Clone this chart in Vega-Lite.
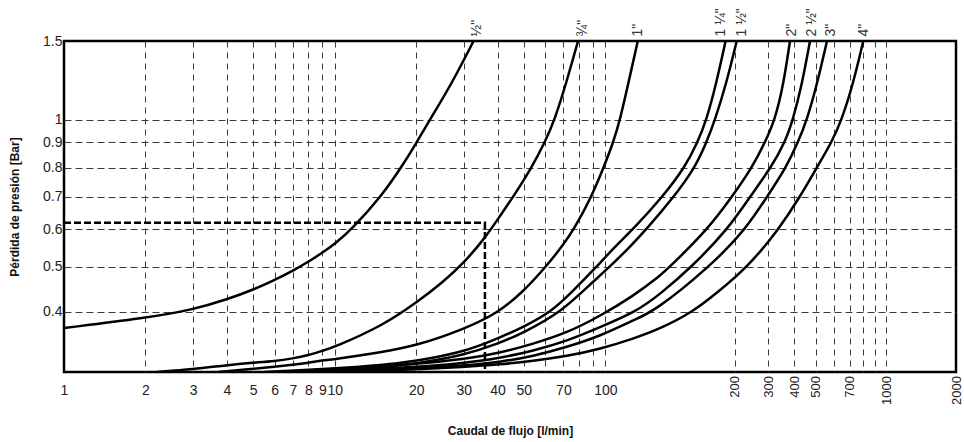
{
  "$schema": "https://vega.github.io/schema/vega-lite/v6.json",
  "width": 892,
  "height": 331,
  "autosize": {"type": "none"},
  "padding": {"left": 64, "top": 41, "right": 8, "bottom": 70},
  "background": "white",
  "config": {
    "view": {"stroke": "black", "strokeWidth": 2.5},
    "font": "Liberation Sans"
  },
  "datasets": {
    "curves": [
      {"s": "½\"", "q": 1, "p": 0.370}, {"s": "½\"", "q": 2, "p": 0.388}, {"s": "½\"", "q": 3, "p": 0.404}, {"s": "½\"", "q": 4, "p": 0.425}, {"s": "½\"", "q": 5, "p": 0.446}, {"s": "½\"", "q": 6, "p": 0.468}, {"s": "½\"", "q": 7, "p": 0.49}, {"s": "½\"", "q": 8, "p": 0.512}, {"s": "½\"", "q": 9, "p": 0.535}, {"s": "½\"", "q": 10, "p": 0.558}, {"s": "½\"", "q": 11.59, "p": 0.6}, {"s": "½\"", "q": 14.83, "p": 0.7}, {"s": "½\"", "q": 17.6, "p": 0.8}, {"s": "½\"", "q": 20.1, "p": 0.9}, {"s": "½\"", "q": 22.45, "p": 1.0}, {"s": "½\"", "q": 27.0, "p": 1.2}, {"s": "½\"", "q": 32.6, "p": 1.5},
      {"s": "¾\"", "q": 2.2, "p": 0.3}, {"s": "¾\"", "q": 3, "p": 0.304}, {"s": "¾\"", "q": 4, "p": 0.31}, {"s": "¾\"", "q": 5, "p": 0.3136}, {"s": "¾\"", "q": 6, "p": 0.316}, {"s": "¾\"", "q": 7, "p": 0.32}, {"s": "¾\"", "q": 8, "p": 0.325}, {"s": "¾\"", "q": 9, "p": 0.332}, {"s": "¾\"", "q": 10, "p": 0.338}, {"s": "¾\"", "q": 15, "p": 0.374}, {"s": "¾\"", "q": 20, "p": 0.418}, {"s": "¾\"", "q": 25, "p": 0.462}, {"s": "¾\"", "q": 30, "p": 0.509}, {"s": "¾\"", "q": 35.9, "p": 0.574}, {"s": "¾\"", "q": 40.8, "p": 0.638}, {"s": "¾\"", "q": 45.7, "p": 0.7}, {"s": "¾\"", "q": 53.4, "p": 0.8}, {"s": "¾\"", "q": 59.8, "p": 0.9}, {"s": "¾\"", "q": 65, "p": 1.0}, {"s": "¾\"", "q": 71.5, "p": 1.2}, {"s": "¾\"", "q": 79.3, "p": 1.5},
      {"s": "1\"", "q": 3.7, "p": 0.3}, {"s": "1\"", "q": 5, "p": 0.3047}, {"s": "1\"", "q": 6, "p": 0.3076}, {"s": "1\"", "q": 7, "p": 0.3106}, {"s": "1\"", "q": 8, "p": 0.3136}, {"s": "1\"", "q": 9, "p": 0.317}, {"s": "1\"", "q": 10, "p": 0.319}, {"s": "1\"", "q": 15, "p": 0.330}, {"s": "1\"", "q": 20, "p": 0.34}, {"s": "1\"", "q": 30, "p": 0.368}, {"s": "1\"", "q": 40, "p": 0.397}, {"s": "1\"", "q": 50, "p": 0.443}, {"s": "1\"", "q": 60.3, "p": 0.5}, {"s": "1\"", "q": 69, "p": 0.55}, {"s": "1\"", "q": 76.7, "p": 0.6}, {"s": "1\"", "q": 89, "p": 0.7}, {"s": "1\"", "q": 98.5, "p": 0.8}, {"s": "1\"", "q": 104.4, "p": 0.9}, {"s": "1\"", "q": 108.2, "p": 1.0}, {"s": "1\"", "q": 113, "p": 1.2}, {"s": "1\"", "q": 119, "p": 1.5},
      {"s": "1 ¼\"", "q": 5.5, "p": 0.3}, {"s": "1 ¼\"", "q": 7, "p": 0.302}, {"s": "1 ¼\"", "q": 10, "p": 0.305}, {"s": "1 ¼\"", "q": 15, "p": 0.31}, {"s": "1 ¼\"", "q": 20, "p": 0.316}, {"s": "1 ¼\"", "q": 30, "p": 0.33}, {"s": "1 ¼\"", "q": 40, "p": 0.352}, {"s": "1 ¼\"", "q": 50, "p": 0.372}, {"s": "1 ¼\"", "q": 63.2, "p": 0.4}, {"s": "1 ¼\"", "q": 75, "p": 0.44}, {"s": "1 ¼\"", "q": 93, "p": 0.5}, {"s": "1 ¼\"", "q": 105, "p": 0.55}, {"s": "1 ¼\"", "q": 116.2, "p": 0.6}, {"s": "1 ¼\"", "q": 136, "p": 0.7}, {"s": "1 ¼\"", "q": 153, "p": 0.8}, {"s": "1 ¼\"", "q": 164, "p": 0.9}, {"s": "1 ¼\"", "q": 172, "p": 1.0}, {"s": "1 ¼\"", "q": 181, "p": 1.2}, {"s": "1 ¼\"", "q": 190.5, "p": 1.5},
      {"s": "1 ½\"", "q": 6.5, "p": 0.3}, {"s": "1 ½\"", "q": 10, "p": 0.303}, {"s": "1 ½\"", "q": 15, "p": 0.307}, {"s": "1 ½\"", "q": 20, "p": 0.312}, {"s": "1 ½\"", "q": 30, "p": 0.325}, {"s": "1 ½\"", "q": 40, "p": 0.343}, {"s": "1 ½\"", "q": 50, "p": 0.362}, {"s": "1 ½\"", "q": 68.8, "p": 0.4}, {"s": "1 ½\"", "q": 85, "p": 0.45}, {"s": "1 ½\"", "q": 102.5, "p": 0.5}, {"s": "1 ½\"", "q": 114, "p": 0.55}, {"s": "1 ½\"", "q": 124.8, "p": 0.6}, {"s": "1 ½\"", "q": 144.5, "p": 0.7}, {"s": "1 ½\"", "q": 161.7, "p": 0.8}, {"s": "1 ½\"", "q": 172, "p": 0.9}, {"s": "1 ½\"", "q": 180, "p": 1.0}, {"s": "1 ½\"", "q": 191, "p": 1.2}, {"s": "1 ½\"", "q": 205, "p": 1.5},
      {"s": "2\"", "q": 6.28, "p": 0.3}, {"s": "2\"", "q": 10, "p": 0.3043}, {"s": "2\"", "q": 20, "p": 0.3117}, {"s": "2\"", "q": 30, "p": 0.319}, {"s": "2\"", "q": 40.8, "p": 0.3285}, {"s": "2\"", "q": 54, "p": 0.343}, {"s": "2\"", "q": 72.1, "p": 0.3615}, {"s": "2\"", "q": 95.8, "p": 0.392}, {"s": "2\"", "q": 116, "p": 0.432}, {"s": "2\"", "q": 134, "p": 0.4775}, {"s": "2\"", "q": 141.4, "p": 0.5}, {"s": "2\"", "q": 173.4, "p": 0.6}, {"s": "2\"", "q": 197.1, "p": 0.7}, {"s": "2\"", "q": 246.9, "p": 0.8}, {"s": "2\"", "q": 289.3, "p": 0.9}, {"s": "2\"", "q": 323.9, "p": 1.0}, {"s": "2\"", "q": 355.4, "p": 1.2}, {"s": "2\"", "q": 381.5, "p": 1.5},
      {"s": "2 ½\"", "q": 6.84, "p": 0.3}, {"s": "2 ½\"", "q": 10, "p": 0.3021}, {"s": "2 ½\"", "q": 20, "p": 0.3072}, {"s": "2 ½\"", "q": 30, "p": 0.3131}, {"s": "2 ½\"", "q": 40.8, "p": 0.3205}, {"s": "2 ½\"", "q": 54, "p": 0.3318}, {"s": "2 ½\"", "q": 72.1, "p": 0.3477}, {"s": "2 ½\"", "q": 95.8, "p": 0.3717}, {"s": "2 ½\"", "q": 117.9, "p": 0.4}, {"s": "2 ½\"", "q": 134, "p": 0.436}, {"s": "2 ½\"", "q": 159.1, "p": 0.5}, {"s": "2 ½\"", "q": 193, "p": 0.6}, {"s": "2 ½\"", "q": 241, "p": 0.7}, {"s": "2 ½\"", "q": 310, "p": 0.8}, {"s": "2 ½\"", "q": 361.3, "p": 0.9}, {"s": "2 ½\"", "q": 394.3, "p": 1.0}, {"s": "2 ½\"", "q": 433.4, "p": 1.2}, {"s": "2 ½\"", "q": 471.2, "p": 1.5},
      {"s": "3\"", "q": 7.44, "p": 0.3}, {"s": "3\"", "q": 10, "p": 0.3014}, {"s": "3\"", "q": 20, "p": 0.305}, {"s": "3\"", "q": 30, "p": 0.3094}, {"s": "3\"", "q": 40.8, "p": 0.3146}, {"s": "3\"", "q": 54, "p": 0.3234}, {"s": "3\"", "q": 72.1, "p": 0.3379}, {"s": "3\"", "q": 95.8, "p": 0.3562}, {"s": "3\"", "q": 116, "p": 0.384}, {"s": "3\"", "q": 129.8, "p": 0.4}, {"s": "3\"", "q": 175.2, "p": 0.5}, {"s": "3\"", "q": 229.5, "p": 0.6}, {"s": "3\"", "q": 296.5, "p": 0.7}, {"s": "3\"", "q": 365.3, "p": 0.8}, {"s": "3\"", "q": 415.7, "p": 0.9}, {"s": "3\"", "q": 456.7, "p": 1.0}, {"s": "3\"", "q": 506.4, "p": 1.2}, {"s": "3\"", "q": 558.9, "p": 1.5},
      {"s": "4\"", "q": 8.46, "p": 0.3}, {"s": "4\"", "q": 10, "p": 0.3007}, {"s": "4\"", "q": 20, "p": 0.3036}, {"s": "4\"", "q": 30, "p": 0.3072}, {"s": "4\"", "q": 40.8, "p": 0.3109}, {"s": "4\"", "q": 54, "p": 0.3161}, {"s": "4\"", "q": 72.1, "p": 0.3234}, {"s": "4\"", "q": 95.8, "p": 0.3349}, {"s": "4\"", "q": 116, "p": 0.3515}, {"s": "4\"", "q": 134, "p": 0.3685}, {"s": "4\"", "q": 160.2, "p": 0.4}, {"s": "4\"", "q": 182.9, "p": 0.441}, {"s": "4\"", "q": 235.2, "p": 0.5}, {"s": "4\"", "q": 338.5, "p": 0.6}, {"s": "4\"", "q": 424.5, "p": 0.7}, {"s": "4\"", "q": 504.9, "p": 0.8}, {"s": "4\"", "q": 585.5, "p": 0.9}, {"s": "4\"", "q": 646.2, "p": 1.0}, {"s": "4\"", "q": 722.3, "p": 1.2}, {"s": "4\"", "q": 799.5, "p": 1.5}
    ],
    "guide": [
      {"q": 1, "p": 0.618, "o": 1},
      {"q": 35.9, "p": 0.618, "o": 2},
      {"q": 35.9, "p": 0.3, "o": 3}
    ],
    "labels": [
      {"s": "½\"", "q": 33.6},
      {"s": "¾\"", "q": 82.9},
      {"s": "1\"", "q": 119.2},
      {"s": "1 ¼\"", "q": 185.9},
      {"s": "1 ½\"", "q": 218.6},
      {"s": "2\"", "q": 390},
      {"s": "2 ½\"", "q": 481},
      {"s": "3\"", "q": 581.5},
      {"s": "4\"", "q": 805}
    ]
  },
  "resolve": {"axis": {"x": "independent"}},
  "layer": [
    {
      "data": {"name": "curves"},
      "mark": {"type": "line", "color": "black", "strokeWidth": 2.5, "interpolate": "basis", "clip": true},
      "encoding": {
        "x": {
          "field": "q", "type": "quantitative",
          "scale": {"type": "log", "domain": [1, 10, 100, 200, 300, 400, 500, 1000, 2000], "range": [0, 270.7, 541.3, 670.7, 704, 730.3, 751.7, 822, 892], "nice": false},
          "axis": {
            "orient": "bottom",
            "values": [1, 2, 3, 4, 5, 6, 7, 8, 9, 10, 20, 30, 40, 50, 60, 70, 80, 90, 100],
            "labelExpr": "indexof([60, 80, 90], datum.value) >= 0 ? '' : '' + datum.value",
            "grid": true, "gridDash": [6, 5], "gridColor": "#3a3a3a", "gridWidth": 1,
            "gridOpacity": {"condition": {"test": "datum.value == 1", "value": 0}, "value": 1},
            "ticks": false, "domain": false, "labelPadding": 11, "labelFontSize": 14, "labelColor": "#222",
            "labelFlush": false, "labelOverlap": false, "labelBound": false,
            "title": "Caudal de flujo [l/min]", "titleFontSize": 12, "titleFontWeight": "bold", "titleColor": "#111",
            "titleX": 446, "titleY": 58, "titleBaseline": "middle", "titleAlign": "center"
          }
        },
        "y": {
          "field": "p", "type": "quantitative",
          "scale": {"type": "log", "domain": [0.3, 0.4, 0.5, 0.6, 0.7, 0.8, 0.9, 1, 1.5], "range": [331, 270.7, 225.7, 188, 155.7, 126.7, 101.3, 78.7, 0], "nice": false},
          "axis": {
            "values": [0.4, 0.5, 0.6, 0.7, 0.8, 0.9, 1, 1.5],
            "format": "~g",
            "grid": true, "gridDash": [7, 4], "gridColor": "#3a3a3a", "gridWidth": 1,
            "gridOpacity": {"condition": {"test": "datum.value == 1.5", "value": 0}, "value": 1},
            "ticks": false, "domain": false, "labelPadding": 2, "labelFontSize": 14, "labelColor": "#222",
            "labelFlush": false, "labelOverlap": false, "labelBound": false,
            "title": "Pérdida de presión [Bar]", "titleFontSize": 12, "titleFontWeight": "bold", "titleColor": "#111",
            "titleX": -50, "titleY": 165.5, "titleAngle": 270, "titleBaseline": "middle", "titleAlign": "center"
          }
        },
        "detail": {"field": "s", "type": "nominal"}
      }
    },
    {
      "data": {"name": "guide"},
      "mark": {"type": "line", "color": "black", "strokeWidth": 2.5, "strokeDash": [7, 3]},
      "encoding": {
        "x": {
          "field": "q", "type": "quantitative",
          "axis": {
            "orient": "bottom",
            "values": [200, 300, 400, 500, 600, 700, 800, 900, 1000, 2000],
            "labelExpr": "indexof([600, 800, 900], datum.value) >= 0 ? '' : '' + datum.value",
            "grid": true, "gridDash": [6, 5], "gridColor": "#3a3a3a", "gridWidth": 1,
            "gridOpacity": {"condition": {"test": "datum.value == 2000", "value": 0}, "value": 1},
            "ticks": false, "domain": false, "labelPadding": 3.5, "labelFontSize": 13, "labelColor": "#222",
            "labelAngle": 270, "labelAlign": "right", "labelBaseline": "middle",
            "labelFlush": false, "labelOverlap": false, "labelBound": false,
            "title": null
          }
        },
        "y": {"field": "p", "type": "quantitative"},
        "order": {"field": "o", "type": "quantitative"}
      }
    },
    {
      "data": {"name": "labels"},
      "mark": {"type": "text", "angle": 270, "align": "left", "baseline": "middle", "dx": 4.5, "fontSize": 14, "color": "#333", "font": "Liberation Sans"},
      "encoding": {
        "x": {"field": "q", "type": "quantitative", "axis": null},
        "y": {"datum": 1.5, "type": "quantitative"},
        "text": {"field": "s", "type": "nominal"}
      }
    }
  ]
}
